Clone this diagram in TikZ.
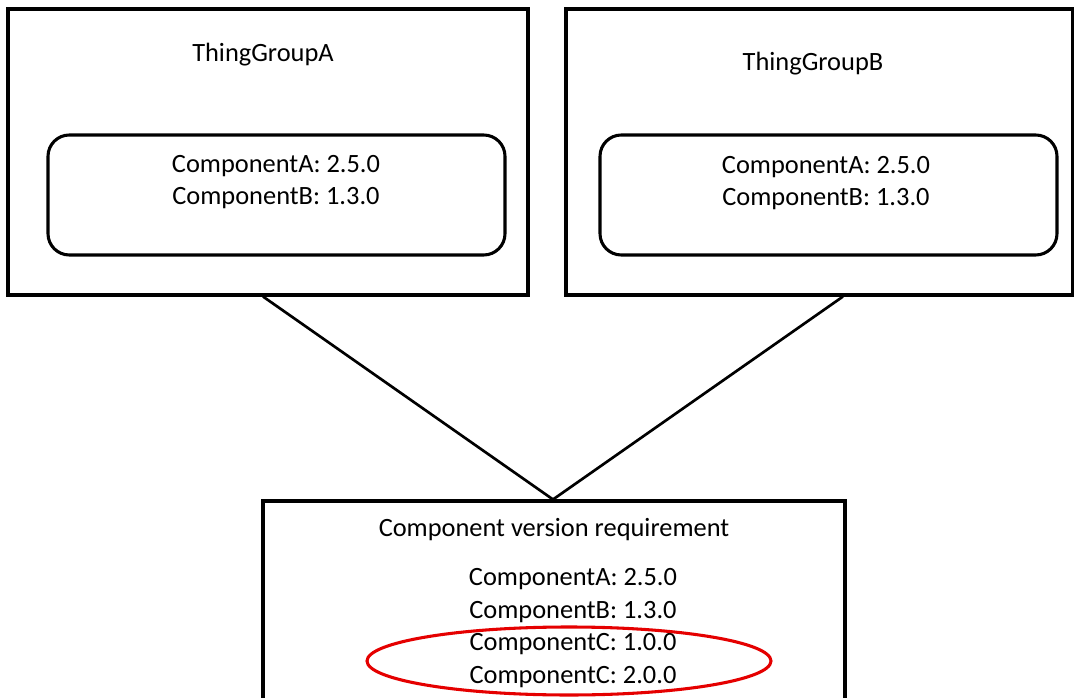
\documentclass[tikz,border=0pt]{standalone}
\usepackage{fontspec}
\setmainfont{Carlito}
\usetikzlibrary{shapes.geometric}
\begin{document}
\begin{tikzpicture}[x=0.75pt,y=-0.75pt,
  outer/.style={draw=black,line width=2.3pt,rectangle,inner sep=0pt},
  inner/.style={draw=black,line width=2.3pt,rectangle,rounded corners=16pt,inner sep=0pt},
  lbl/.style={font=\fontsize{19.8}{24.4}\selectfont,align=center,inner sep=0pt},
  conn/.style={draw=black,line width=2pt}]
\useasboundingbox (0,0) rectangle (1074,698);
\fill[white] (0,0) rectangle (1074,698);
\node[outer,minimum width=390pt,minimum height=214.5pt] (A) at (268,152) {};
\node[outer,minimum width=380.25pt,minimum height=214.5pt] (B) at (819.5,152) {};
\node[inner,minimum width=342.75pt,minimum height=90pt] (IA) at (276.5,195) {};
\node[inner,minimum width=342.75pt,minimum height=90pt] (IB) at (828.5,195) {};
\node[outer,minimum width=436.5pt,minimum height=150.75pt] (R) at (554,601.5) {};
\node[lbl] (TA) at (263,55) {ThingGroupA};
\node[lbl] (TB) at (813,64) {ThingGroupB};
\node[lbl] (CA) at (276,182) {ComponentA: 2.5.0\\ComponentB: 1.3.0};
\node[lbl] (CB) at (826,183) {ComponentA: 2.5.0\\ComponentB: 1.3.0};
\node[lbl] (TR) at (554,530) {Component version requirement};
\node[lbl] (CR) at (573,628) {ComponentA: 2.5.0\\ComponentB: 1.3.0\\ComponentC: 1.0.0\\ComponentC: 2.0.0};
\node[draw=red!90!black,line width=2.3pt,ellipse,minimum width=303pt,minimum height=51pt,inner sep=0pt] (E) at (569,661) {};
\draw[conn] ([xshift=-3.75pt]A.south) -- ([xshift=-0.75pt]R.north);
\draw[conn] ([xshift=17.6pt]B.south) -- ([xshift=-0.75pt]R.north);
\end{tikzpicture}
\end{document}
